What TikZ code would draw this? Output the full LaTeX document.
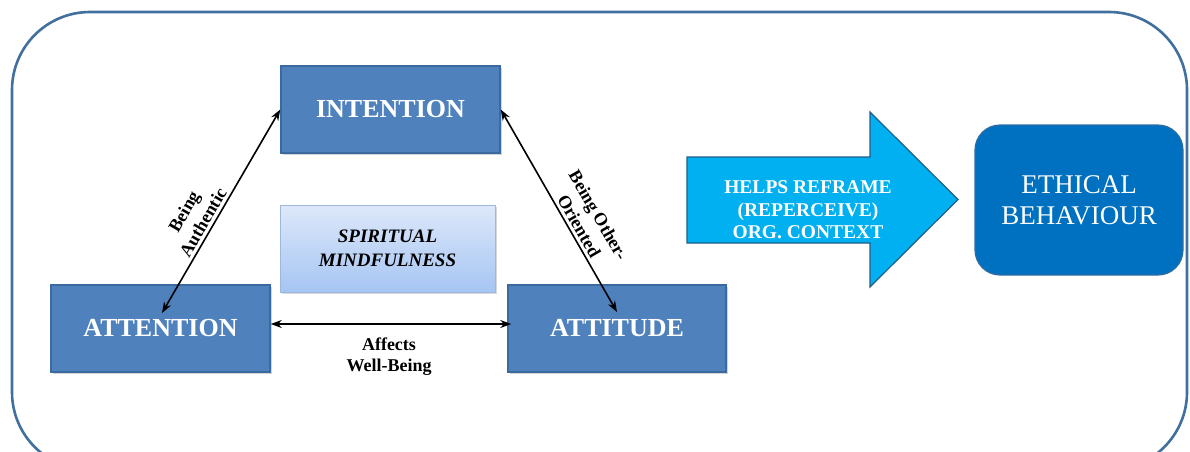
\documentclass[tikz,border=0pt]{standalone}
\usepackage{fontspec}
\setmainfont{Liberation Serif}
\usetikzlibrary{arrows.meta,shadows}

\definecolor{boxblue}{HTML}{4F81BD}
\definecolor{boxline}{HTML}{3B6A9E}
\definecolor{frameblue}{HTML}{41709F}
\definecolor{arrowcyan}{HTML}{00B0F0}
\definecolor{arrowline}{HTML}{1F5D8A}
\definecolor{ethicblue}{HTML}{0070C0}
\definecolor{ethicline}{HTML}{2E6DA4}
\definecolor{mindtop}{HTML}{DDE8FA}
\definecolor{mindbot}{HTML}{A6C5F3}
\definecolor{mindline}{HTML}{9DB8DB}

\tikzset{
    stagebox/.style={draw=boxline, line width=1.5pt, fill=boxblue, text=white,
        minimum width=219pt, minimum height=87pt,
        font=\fontsize{26}{30}\selectfont\bfseries,
        drop shadow={shadow xshift=1.5pt, shadow yshift=-1.5pt, opacity=0.35}},
    conn/.style={line width=1.6pt, {Stealth[length=11pt,width=8pt]}-{Stealth[length=11pt,width=8pt]}},
    edgelab/.style={font=\fontsize{18}{22}\selectfont\bfseries, align=center, inner sep=3pt}
}

\begin{document}
\begin{tikzpicture}[x=1pt, y=-1pt]

    \useasboundingbox (0,0) rectangle (1190,451);

    % Outer frame (bottom edge runs off the page)
    \draw[frameblue, line width=2.6pt, rounded corners=78pt] (12,12) rectangle (1187,470);

    % ==========================================
    % TRIANGLE: Intention / Attention / Attitude
    % ==========================================

    \node[stagebox] (intention) at (390.5,109.5) {INTENTION};
    \node[stagebox] (attention) at (160.5,328.5) {ATTENTION};
    \node[stagebox, minimum width=218pt] (attitude) at (617,328.5) {ATTITUDE};

    % Centre box with gradient
    \node[draw=mindline, line width=1pt, top color=mindtop, bottom color=mindbot,
          minimum width=215pt, minimum height=87pt, align=center,
          font=\fontsize{19}{24}\selectfont\bfseries\itshape,
          drop shadow={shadow xshift=1.5pt, shadow yshift=-1.5pt, opacity=0.3}]
          (mindful) at (387.5,248.5) {SPIRITUAL\\MINDFULNESS};

    % Arrow tips end inside the lower boxes
    \coordinate (attnTip) at (162,313);
    \coordinate (attiTip) at (617,312);

    % Connectors with their labels
    \draw[conn] (intention.west) -- node[edgelab, sloped, above, pos=0.58] {Being\\Authentic} (attnTip);
    \draw[conn] (intention.east) -- node[edgelab, sloped, above, pos=0.6] {Being Other-\\Oriented} (attiTip);
    \draw[conn, shorten >=-4pt] ([yshift=4.5pt]attention.east) -- node[edgelab, below=10pt, font=\fontsize{18}{21}\selectfont\bfseries] {Affects\\Well-Being} ([yshift=4.5pt]attitude.west);

    % ==========================================
    % RIGHT SIDE: block arrow and outcome
    % ==========================================

    % Block arrow
    \draw[arrowline, line width=1.2pt, fill=arrowcyan]
        (687,157) -- (870,157) -- (870,112) -- (958,199.5) -- (870,287) -- (870,243) -- (687,243) -- cycle;
    \node[text=white, align=center, font=\fontsize{19.5}{22.5}\selectfont\bfseries]
        (reframe) at (808,210) {HELPS REFRAME\\(REPERCEIVE)\\ORG. CONTEXT};

    % Outcome box
    \node[draw=ethicline, line width=1.2pt, fill=ethicblue, text=white, rounded corners=25pt,
          minimum width=208pt, minimum height=150pt, align=center,
          font=\fontsize{27}{31}\selectfont] (ethical) at (1079,200) {ETHICAL\\BEHAVIOUR};

\end{tikzpicture}
\end{document}
